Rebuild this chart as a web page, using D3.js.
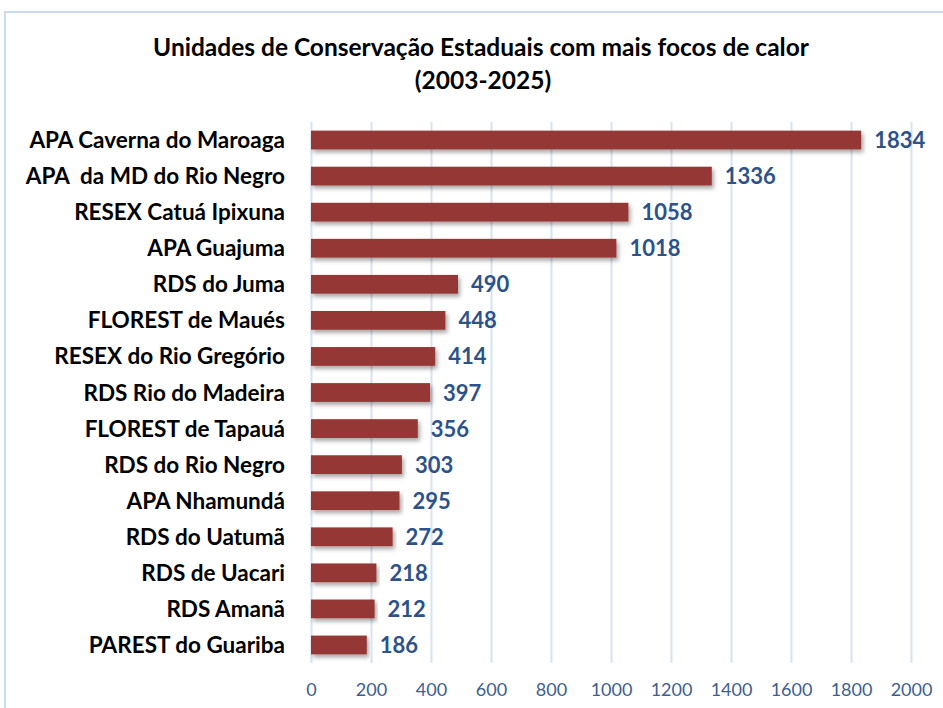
<!DOCTYPE html>
<html>
<head>
<meta charset="utf-8">
<script src="https://cdnjs.cloudflare.com/ajax/libs/d3/7.8.5/d3.min.js"></script>
<style>
  body { margin: 0; background: #fff; }
  .grid line { stroke: #d6e3f3; stroke-width: 2px; }
  .grid path { display: none; }
  .axis path, .axis line { display: none; }
  .axis text { fill: #3d5f8f; font-family: Lato, sans-serif; font-size: 18px; }
</style>
</head>
<body>
<div class="demo"></div>
<script>
const w = 943, h = 708;
const plotL = 311, plotR = 911, plotT = 122, plotB = 663;

const categories = ['APA Caverna do Maroaga', 'APA  da MD do Rio Negro', 'RESEX Catuá Ipixuna', 'APA Guajuma',
  'RDS do Juma', 'FLOREST de Maués', 'RESEX do Rio Gregório', 'RDS Rio do Madeira', 'FLOREST de Tapauá',
  'RDS do Rio Negro', 'APA Nhamundá', 'RDS do Uatumã', 'RDS de Uacari', 'RDS Amanã', 'PAREST do Guariba'];
const values = [1834, 1336, 1058, 1018, 490, 448, 414, 397, 356, 303, 295, 272, 218, 212, 186];
const ticks = [0, 200, 400, 600, 800, 1000, 1200, 1400, 1600, 1800, 2000];

let xScale = d3.scaleLinear().domain([0, 2000]).range([plotL, plotR]);
let yScale = d3.scaleBand().domain(categories).range([plotT, plotB]).paddingInner(0.48).paddingOuter(0.24);

let svg = d3.select('.demo').append('svg').attr('width', w).attr('height', h);

let defs = svg.append('defs');
let f = defs.append('filter').attr('id', 'shadow').attr('x', '-5%').attr('y', '-30%').attr('width', '110%').attr('height', '170%');
f.append('feDropShadow').attr('dx', 2).attr('dy', 3).attr('stdDeviation', 2).attr('flood-color', '#000').attr('flood-opacity', 0.35);

// outer frame
svg.append('path')
   .attr('d', 'M5,' + h + ' L5,12 L' + w + ',12')
   .attr('fill', 'none').attr('stroke', '#c9daf0').attr('stroke-width', 2);

// title
svg.append('text').attr('x', 481).attr('y', 56).attr('text-anchor', 'middle')
   .attr('font-family', 'Lato, sans-serif').attr('font-weight', 'bold').attr('font-size', '24.5px').attr('fill', '#000')
   .text('Unidades de Conservação Estaduais com mais focos de calor');
svg.append('text').attr('x', 483).attr('y', 89).attr('text-anchor', 'middle')
   .attr('font-family', 'Lato, sans-serif').attr('font-weight', 'bold').attr('font-size', '24.5px').attr('fill', '#000')
   .text('(2003-2025)');

let xGrid = d3.axisBottom(xScale).tickValues(ticks).tickFormat('').tickSize(plotB - plotT);
svg.append('g').attr('class', 'grid')
   .attr('transform', 'translate(0,' + plotT + ')')
   .call(xGrid);

let xAxis = d3.axisBottom(xScale).tickValues(ticks).tickFormat(d3.format('d')).tickSize(0).tickPadding(0);
svg.append('g').attr('class', 'axis')
   .attr('transform', 'translate(0,' + (plotB + 20) + ')')
   .call(xAxis);

svg.selectAll('rect.bar').data(values).enter()
   .append('rect').attr('class', 'bar')
   .attr('x', xScale(0))
   .attr('y', function(d, i){ return yScale(categories[i]) })
   .attr('width', function(d){ return xScale(d) - xScale(0) })
   .attr('height', yScale.bandwidth())
   .attr('fill', '#953735')
   .attr('filter', 'url(#shadow)');

svg.selectAll('text.val').data(values).enter()
   .append('text').attr('class', 'val')
   .text(function(d){ return d })
   .attr('x', function(d){ return xScale(d) + 13 })
   .attr('y', function(d, i){ return yScale(categories[i]) + yScale.bandwidth() / 2 + 8 })
   .attr('fill', '#2c5289')
   .attr('font-family', 'Lato, sans-serif').attr('font-weight', 'bold').attr('font-size', '22px');

svg.selectAll('text.cat').data(categories).enter()
   .append('text').attr('class', 'cat')
   .text(function(d){ return d })
   .attr('x', 285)
   .attr('y', function(d){ return yScale(d) + yScale.bandwidth() / 2 + 8 })
   .attr('text-anchor', 'end')
   .style('white-space', 'pre')
   .attr('fill', '#000')
   .attr('font-family', 'Lato, sans-serif').attr('font-weight', 'bold').attr('font-size', '22.5px');
</script>
</body>
</html>
